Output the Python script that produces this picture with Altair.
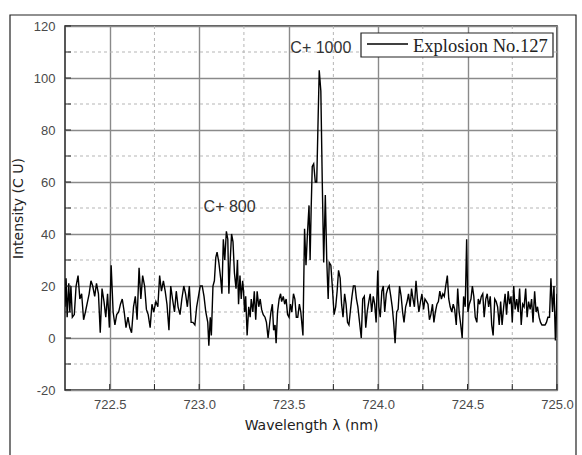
import altair as alt
import pandas as pd

# ---- data ----
wavelength = [
    722.250, 722.256, 722.262, 722.271, 722.277, 722.283, 722.291, 722.302, 722.312, 722.323,
    722.333, 722.343, 722.354, 722.364, 722.376, 722.385, 722.395, 722.405, 722.416, 722.426,
    722.437, 722.447, 722.457, 722.468, 722.478, 722.488, 722.498,
    722.508, 722.519, 722.529, 722.539, 722.550, 722.560, 722.570, 722.581, 722.591, 722.602,
    722.612, 722.622, 722.633, 722.643, 722.653, 722.664, 722.674, 722.684, 722.695, 722.705,
    722.715, 722.726, 722.736, 722.746,
    722.758, 722.769, 722.779, 722.789, 722.800, 722.810, 722.820, 722.831, 722.841, 722.851,
    722.862, 722.872, 722.882, 722.893, 722.903, 722.914, 722.924, 722.934, 722.945, 722.955,
    722.965, 722.976, 722.986, 722.996,
    723.006, 723.017, 723.027, 723.037, 723.048, 723.054, 723.062, 723.068, 723.077, 723.085,
    723.093, 723.100, 723.110, 723.120, 723.127, 723.135, 723.143, 723.152, 723.160, 723.166,
    723.172, 723.181, 723.189, 723.197, 723.206, 723.214, 723.220, 723.228, 723.235, 723.243,
    723.248, 723.254, 723.260, 723.268, 723.277, 723.285, 723.291, 723.300, 723.308, 723.316,
    723.324, 723.333, 723.341, 723.349, 723.358, 723.368, 723.376, 723.385, 723.393, 723.401,
    723.409, 723.416, 723.424, 723.430, 723.438, 723.447, 723.455, 723.461, 723.470, 723.478,
    723.486, 723.494,
    723.502, 723.510, 723.518, 723.527, 723.535, 723.543, 723.551, 723.560, 723.568, 723.580,
    723.589, 723.597, 723.605, 723.614, 723.620, 723.626, 723.632, 723.640, 723.649, 723.657,
    723.665, 723.671, 723.680, 723.688, 723.696, 723.705, 723.713, 723.721, 723.727, 723.736,
    723.744,
    723.754, 723.763, 723.771, 723.779, 723.788, 723.796, 723.804, 723.813, 723.821, 723.829,
    723.837, 723.846, 723.854, 723.862, 723.871, 723.879, 723.887, 723.898, 723.906, 723.914,
    723.923, 723.931, 723.939, 723.948, 723.956, 723.964, 723.973, 723.981, 723.989, 723.998,
    724.004, 724.012, 724.021, 724.029, 724.037, 724.046, 724.054, 724.062, 724.071, 724.079,
    724.087, 724.095, 724.104, 724.112, 724.120, 724.129, 724.137, 724.145, 724.154, 724.162,
    724.170, 724.179, 724.187, 724.195, 724.203, 724.212, 724.220, 724.228, 724.237, 724.245,
    724.254, 724.262, 724.271, 724.279, 724.287, 724.295, 724.304, 724.312, 724.320, 724.329,
    724.337, 724.345, 724.354, 724.362, 724.370, 724.378, 724.387, 724.395, 724.403, 724.412,
    724.420, 724.428, 724.437, 724.445, 724.453, 724.462, 724.470, 724.478, 724.487, 724.495,
    724.502, 724.510, 724.519, 724.527, 724.535, 724.543, 724.552, 724.560, 724.568, 724.577,
    724.585, 724.593, 724.602, 724.610, 724.618, 724.627, 724.635, 724.643, 724.652, 724.660,
    724.668, 724.677, 724.685, 724.693, 724.702, 724.710, 724.718, 724.727, 724.735, 724.743,
    724.750, 724.758, 724.766, 724.775, 724.783, 724.791, 724.800, 724.808, 724.816, 724.825,
    724.833, 724.841, 724.850, 724.858, 724.866, 724.875, 724.883, 724.891, 724.900, 724.908,
    724.916, 724.925, 724.933, 724.941, 724.949, 724.958, 724.966, 724.975, 724.983, 724.991,
    725.000,
]
intensity = [
    12, 23, 8, 21, 10, 20, 8, 9, 20, 24,
    15, 17, 7, 10, 14, 17, 22, 20, 16, 21,
    17, 2, 19, 14, 8, 17, 4,
    28, 10, 5, 9, 10, 13, 15, 10, 4, 8,
    4, 2, 12, 16, 7, 27, 15, 24, 20, 11,
    9, 4, 13, 10,
    14, 12, 24, 18, 22, 18, 13, 3, 20, 15,
    10, 18, 12, 9, 15, 20, 17, 12, 20, 6,
    6, 5, 12, 16,
    20, 20, 16, 10, 6, -3, 8, 1, 20, 22,
    31, 33, 29, 23, 17, 38, 30, 41, 38, 17,
    28, 40, 37, 25, 19, 30, 13, 24, 15, 22,
    18, 10, 16, 1, 12, 8, 15, 10, 18, 7,
    18, 12, 15, 11, 9, 8, 6, 0, 5, 10,
    13, 3, 5, -2, 10, 15, 17, 14, 16, 13,
    15, 9,
    8, 13, 10, 17, 15, 8, 8, 13, 10, 1,
    42, 28, 40, 51, 30, 50, 66, 67, 60, 60,
    85, 103, 95, 60, 29, 55, 30, 15, 29, 28,
    20,
    9, 12, 18, 26, 23, 13, 8, 17, 13, 6,
    5, 11, 16, 20, 20, 15, 12, 5, 0, 15,
    16, 4, 10, 14, 17, 10, 16, 13, 6, 26,
    12, 8, 18, 20, 10, 17, 19, 20, 16, 12,
    6, -2, 10, 11, 20, 16, 10, 6, 12, 14,
    17, 12, 19, 15, 12, 22, 15, 10, 14, 17,
    11, 15, 14, 13, 7, 9, 13, 6, 10, 13,
    14, 18, 15, 17, 16, 20, 24, 15, 12, 10,
    13, 11, 5, 19, 10, 5, 0, 16, 12, 38,
    10, 13, 15, 20, 16, 8, 6, 15, 13, 16,
    17, 8, 15, 17, 12, 16, 5, 1, 15, 14,
    12, 5, 14, 5, 12, 17, 9, 18, 13, 16,
    6, 20, 11, 15, 10, 19, 5, 13, 12, 19,
    8, 14, 11, 15, 6, 18, 10, 12, 8, 6,
    5, 5, 5, 6, 8, 8, 23, 10, 20, -1,
    17,
]

x_major = [722.5, 723.0, 723.5, 724.0, 724.5, 725.0]
x_minor = [722.75, 723.25, 723.75, 724.25, 724.75]
y_major = [-20, 0, 20, 40, 60, 80, 100, 120]
y_minor = [-10, 10, 30, 50, 70, 90, 110]

ann_x = [723.17, 723.68]
ann_y = [50.5, 111.5]
ann_text = ["C+ 800", "C+ 1000"]

legend_label = "Explosion No.127"

W, H = 492, 364

df = pd.DataFrame({"wl": wavelength, "I": intensity})
xs = alt.Scale(domain=[722.25, 725.0], nice=False, zero=False)
ys = alt.Scale(domain=[-20, 120], nice=False, zero=False)

x_axis = alt.Axis(
    values=x_major, format=".1f", grid=True, gridColor="#8a8a8a", gridWidth=1.4,
    ticks=False, domain=False, labelFontSize=13, labelColor="#4a4a4a",
    labelFont="Liberation Sans", labelPadding=8, labelFlush=False,
    title="Wavelength λ (nm)", titleFont="DejaVu Sans", titleFontSize=14,
    titleFontWeight="normal", titleColor="#222", titlePadding=7,
)
y_axis = alt.Axis(
    values=y_major, grid=True, gridColor="#8a8a8a", gridWidth=1.4,
    ticks=False, domain=False, labelFontSize=13, labelColor="#4a4a4a",
    labelFont="Liberation Sans", labelPadding=10, labelFlush=False,
    labelExpr="datum.value + ''",
    title="Intensity (C U)", titleFont="DejaVu Sans", titleFontSize=14,
    titleFontWeight="normal", titleColor="#222", titlePadding=8,
)

one = pd.DataFrame({"k": [0]})

# outer figure frame
frame = alt.Chart(one).mark_rect(
    fillOpacity=0, stroke="#222", strokeWidth=1.2, clip=False
).encode(
    x=alt.value(-55), x2=alt.value(511), y=alt.value(-11), y2=alt.value(445)
)

vminor = alt.Chart(pd.DataFrame({"wl": x_minor})).mark_rule(
    color="#b5b5b5", strokeWidth=1, strokeDash=[3, 3]
).encode(x=alt.X("wl:Q", scale=xs, axis=x_axis))

hminor = alt.Chart(pd.DataFrame({"I": y_minor})).mark_rule(
    color="#b5b5b5", strokeWidth=1, strokeDash=[3, 3]
).encode(y=alt.Y("I:Q", scale=ys, axis=y_axis))

line = alt.Chart(df).mark_line(color="black", strokeWidth=1.4, clip=True).encode(
    x=alt.X("wl:Q", scale=xs, axis=x_axis),
    y=alt.Y("I:Q", scale=ys, axis=y_axis),
)

xticks = alt.Chart(pd.DataFrame({"wl": x_major + x_minor})).mark_rule(
    color="#222", strokeWidth=1
).encode(x=alt.X("wl:Q", scale=xs, axis=x_axis), y=alt.value(H), y2=alt.value(H - 6))

yticks = alt.Chart(pd.DataFrame({"I": y_major + y_minor})).mark_rule(
    color="#222", strokeWidth=1
).encode(y=alt.Y("I:Q", scale=ys, axis=y_axis), x=alt.value(0), x2=alt.value(6))

ann = alt.Chart(pd.DataFrame({"wl": ann_x, "I": ann_y, "t": ann_text})).mark_text(
    font="Liberation Sans", fontSize=16, color="#333", align="center", baseline="middle"
).encode(
    x=alt.X("wl:Q", scale=xs, axis=x_axis),
    y=alt.Y("I:Q", scale=ys, axis=y_axis),
    text="t:N",
)

leg_box = alt.Chart(one).mark_rect(
    fill="white", stroke="#222", strokeWidth=1.2
).encode(x=alt.value(296), x2=alt.value(488), y=alt.value(7), y2=alt.value(31))

leg_line = alt.Chart(one).mark_rule(color="black", strokeWidth=1.3).encode(
    x=alt.value(302), x2=alt.value(343), y=alt.value(18)
)

leg_text = alt.Chart(pd.DataFrame({"t": [legend_label]})).mark_text(
    font="Liberation Serif", fontSize=18.5, color="#222", align="left", baseline="alphabetic"
).encode(x=alt.value(348), y=alt.value(26), text="t:N")

chart = alt.layer(
    frame, vminor, hminor, line, xticks, yticks, ann, leg_box, leg_line, leg_text
).properties(
    width=W, height=H,
    autosize=alt.AutoSizeParams(type="none"),
    padding={"left": 65, "top": 26, "right": 25, "bottom": 65},
    background="white",
).configure_view(stroke="#222", strokeWidth=1.5)

chart.save("out.html", embed_options={"renderer": "svg", "actions": False})
